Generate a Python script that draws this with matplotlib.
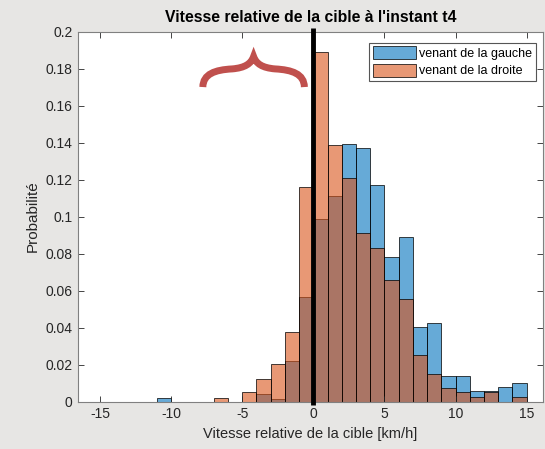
import matplotlib
matplotlib.use('Agg')
import matplotlib.pyplot as plt
import numpy as np
from matplotlib.path import Path
from matplotlib.patches import PathPatch
from matplotlib.ticker import FormatStrFormatter

plt.rcParams['font.family'] = ['Liberation Sans', 'DejaVu Sans']
plt.rcParams['axes.unicode_minus'] = False

# bords des classes (km/h)
bin_edges = np.arange(-15, 16, 1)

# probabilités par classe, de [-15,-14] à [14,15]
p_gauche = [0, 0, 0, 0, 0.0022, 0, 0, 0, 0, 0, 0, 0.0040, 0.0015, 0.0220, 0.0564,
            0.0988, 0.1110, 0.1393, 0.1373, 0.1173, 0.0784, 0.0889, 0.0402, 0.0424,
            0.0141, 0.0141, 0.0059, 0.0057, 0.0079, 0.0101]
p_droite = [0, 0, 0, 0, 0, 0, 0, 0, 0.0022, 0, 0.0051, 0.0124, 0.0202, 0.0378, 0.1159,
            0.1892, 0.1386, 0.1209, 0.0910, 0.0832, 0.0658, 0.0555, 0.0251, 0.0151,
            0.0076, 0.0051, 0.0024, 0.0051, 0, 0.0024]

bleu = (0, 0.447, 0.741)
orange = (0.85, 0.325, 0.098)

fig = plt.figure(figsize=(5.45, 4.49), dpi=100)
fig.patch.set_facecolor('#e7e6e4')
ax = fig.add_axes([0.1431, 0.1053, 0.8532, 0.8245])

ax.bar(bin_edges[:-1], p_gauche, width=1, align='edge', color=bleu + (0.6,),
       edgecolor=(0, 0, 0, 0.85), linewidth=0.6, label='venant de la gauche')
ax.bar(bin_edges[:-1], p_droite, width=1, align='edge', color=orange + (0.6,),
       edgecolor=(0, 0, 0, 0.85), linewidth=0.6, label='venant de la droite')

# trait vertical a zero
ax.plot([0, 0], [-0.002, 0.202], color='black', linewidth=3.5, clip_on=False,
        solid_capstyle='butt', zorder=5)

# accolade rouge
cx = -4.2
demi = [(-3.57, 0.1700), (-3.55, 0.1771), (-2.71, 0.1793), (-1.51, 0.1798),
        (-0.60, 0.1804), (-0.18, 0.1826), (0.0, 0.1865)]
pts = [(cx + dx, y) for dx, y in demi]
pts += [(cx - dx, y) for dx, y in demi[-2::-1]]
codes = [Path.MOVETO] + [Path.CURVE4] * (len(pts) - 1)
brace = PathPatch(Path(pts, codes), facecolor='none', edgecolor='#c0504d',
                  linewidth=5, joinstyle='miter', capstyle='butt', zorder=6)
ax.add_patch(brace)

ax.set_xlim(-16.55, 16.15)
ax.set_ylim(0, 0.2)
ax.set_xticks(np.arange(-15, 16, 5))
ax.set_yticks(np.arange(0, 0.201, 0.02))
ax.yaxis.set_major_formatter(FormatStrFormatter('%g'))
ax.tick_params(direction='in', top=True, right=True, length=4, width=0.6,
               labelsize=10, colors='#262626', pad=4)
for s in ax.spines.values():
    s.set_color('#808080')
    s.set_linewidth(0.8)

ax.set_title("Vitesse relative de la cible à l'instant t4", fontsize=11.3,
             fontweight='bold', pad=7)
ax.set_xlabel('Vitesse relative de la cible [km/h]', fontsize=10.5, color='#262626')
ax.set_ylabel('Probabilité', fontsize=11, color='#262626')

leg = ax.legend(loc='upper right', bbox_to_anchor=(0.985, 0.97), borderaxespad=0,
                fontsize=9, fancybox=False, framealpha=1, edgecolor='#555555',
                handlelength=3.4, handleheight=1.2, handletextpad=0.3,
                labelspacing=0.3, borderpad=0.3)
leg.get_frame().set_linewidth(0.8)

fig.savefig('out.png', dpi=100, facecolor=fig.get_facecolor())
